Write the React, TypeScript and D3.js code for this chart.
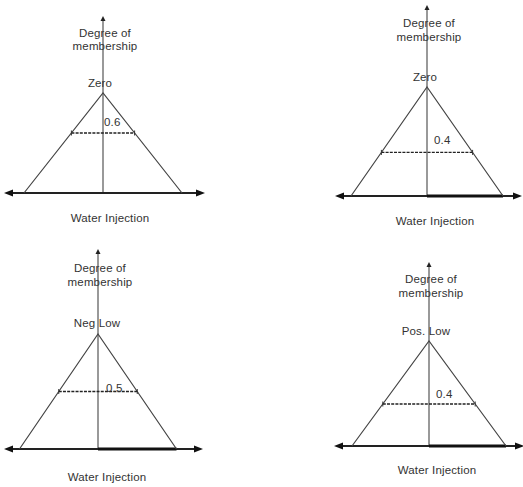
import React from "react";
import * as d3 from "d3";

// Fuzzy sets of the water-injection variable, one per panel
const setNames = ["Zero", "Zero", "Neg Low", "Pos. Low"];
const memberships = [0.6, 0.4, 0.5, 0.4];
const levelLabels = ["0.6", "0.4", "0.5", "0.4"];
const yTitleLines = ["Degree of", "membership"];
const xTitle = "Water Injection";
// Triangular membership function: breakpoints (normalised input, degree)
const triangle: [number, number][] = [[-1, 0], [0, 1], [1, 0]];

// Panel geometry
type Panel = {
  cx: number; apexY: number; baseY: number; halfW: number;
  axisTop: number; hLeft: number; hRight: number;
  degY: number; memY: number; nameX: number; nameY: number;
  valX: number; valDy: number; titleX: number; titleY: number;
  boldRight: boolean;
};
const panels: Panel[] = [
  { cx: 103, apexY: 93, baseY: 193, halfW: 79, axisTop: 16, hLeft: 4, hRight: 205,
    degY: 37, memY: 50, nameX: 100, nameY: 87, valX: 104, valDy: -7, titleX: 110, titleY: 222, boldRight: false },
  { cx: 427, apexY: 87, baseY: 196, halfW: 76, axisTop: 5, hLeft: 335, hRight: 522,
    degY: 27, memY: 41, nameX: 425, nameY: 81, valX: 434, valDy: -8, titleX: 435, titleY: 225, boldRight: true },
  { cx: 98, apexY: 334, baseY: 449, halfW: 78.5, axisTop: 249, hLeft: 4, hRight: 203,
    degY: 272, memY: 286, nameX: 97, nameY: 327, valX: 106, valDy: 0, titleX: 107, titleY: 481, boldRight: true },
  { cx: 429, apexY: 341, baseY: 446, halfW: 77, axisTop: 262, hLeft: 334, hRight: 524,
    degY: 283, memY: 297, nameX: 426, nameY: 335, valX: 436, valDy: -6, titleX: 437, titleY: 474, boldRight: true },
];

const FONT = "'Liberation Sans', Arial, sans-serif";
const textStyle: React.CSSProperties = { fontFamily: FONT, fontSize: 11.5, fill: "#333", letterSpacing: 0.15 };

function MembershipPanel({ p, i }: { p: Panel; i: number }) {
  const x = d3.scaleLinear().domain([-1, 1]).range([p.cx - p.halfW, p.cx + p.halfW]);
  const y = d3.scaleLinear().domain([0, 1]).range([p.baseY, p.apexY]);
  const line = d3.line<[number, number]>().x((d) => x(d[0])).y((d) => y(d[1]));
  const level = memberships[i];
  const ly = y(level);
  const lx0 = x(-(1 - level));
  const lx1 = x(1 - level);
  const by = y(0);
  const ah = 8; // arrowhead length
  return (
    <g>
      {/* vertical axis with arrow */}
      <line x1={p.cx} x2={p.cx} y1={by} y2={p.axisTop + 3} stroke="#555" strokeWidth={1.2} />
      <path d={`M${p.cx},${p.axisTop} L${p.cx - 2.5},${p.axisTop + 5} L${p.cx + 2.5},${p.axisTop + 5} Z`} fill="#222" />
      {/* horizontal axis with arrows on both ends */}
      <line x1={p.hLeft + ah} x2={p.hRight - ah} y1={by} y2={by} stroke="#222" strokeWidth={1.8} />
      {p.boldRight && (
        <line x1={p.cx} x2={x(1)} y1={by} y2={by} stroke="#111" strokeWidth={2.8} />
      )}
      <path d={`M${p.hLeft},${by} L${p.hLeft + ah + 1},${by - 3.5} L${p.hLeft + ah + 1},${by + 3.5} Z`} fill="#111" />
      <path d={`M${p.hRight},${by} L${p.hRight - ah - 1},${by - 3.5} L${p.hRight - ah - 1},${by + 3.5} Z`} fill="#111" />
      {/* triangular membership function */}
      <path d={line(triangle) ?? ""} fill="none" stroke="#444" strokeWidth={1.2} />
      {/* cut level */}
      <line x1={lx0} x2={lx1} y1={ly} y2={ly} stroke="#222" strokeWidth={1.4} strokeDasharray="3,1.2" />
      <line x1={lx0} x2={lx0} y1={ly - 2.5} y2={ly + 2.5} stroke="#333" strokeWidth={1} />
      <line x1={lx1} x2={lx1} y1={ly - 2.5} y2={ly + 2.5} stroke="#333" strokeWidth={1} />
      {/* texts */}
      <text x={p.cx + 2} y={p.degY} textAnchor="middle" style={textStyle}>{yTitleLines[0]}</text>
      <text x={p.cx + 2} y={p.memY} textAnchor="middle" style={textStyle}>{yTitleLines[1]}</text>
      <text x={p.nameX} y={p.nameY} textAnchor="middle" style={textStyle}>{setNames[i]}</text>
      <text x={p.valX} y={ly + p.valDy} style={textStyle}>{levelLabels[i]}</text>
      <text x={p.titleX} y={p.titleY} textAnchor="middle" style={textStyle}>{xTitle}</text>
    </g>
  );
}

export default function App() {
  return (
    <svg
      width={523}
      height={487}
      style={{ position: "absolute", left: 0, top: 0, background: "#fff" }}
    >
      <rect width={523} height={487} fill="#fff" />
      {panels.map((p, i) => (
        <MembershipPanel key={i} p={p} i={i} />
      ))}
    </svg>
  );
}
